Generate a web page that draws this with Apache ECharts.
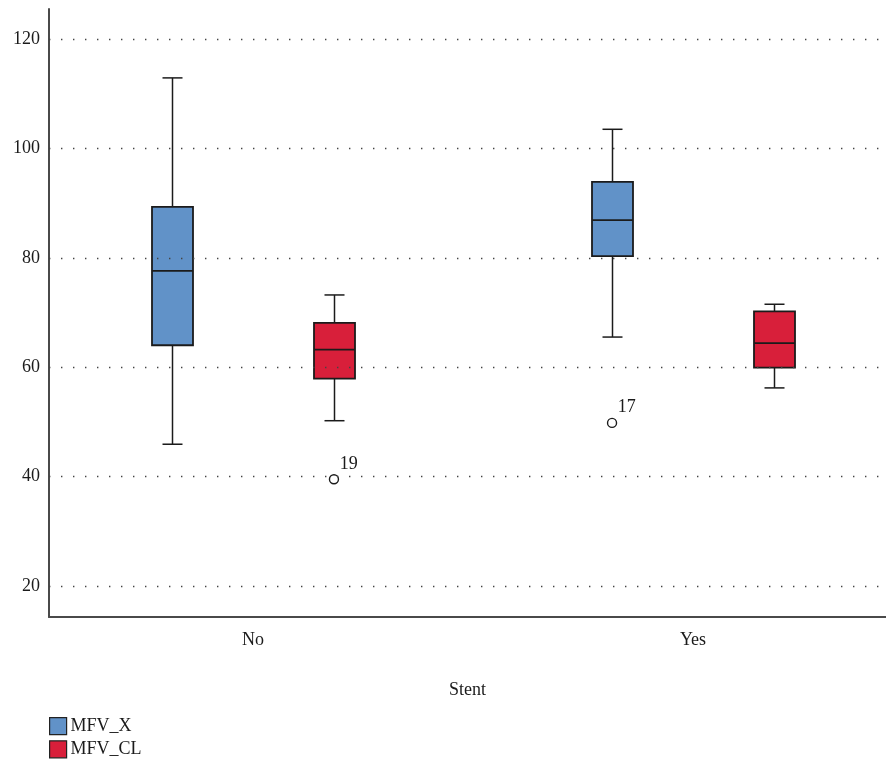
<!DOCTYPE html>
<html>
<head>
<meta charset="utf-8">
<title>MFV by Stent</title>
<script src="https://cdn.jsdelivr.net/npm/echarts@6/dist/echarts.min.js"></script>
<style>
  html, body { margin: 0; padding: 0; background: #fff; }
  #chart { width: 886px; height: 765px; }
</style>
</head>
<body>
<div id="chart"></div>
<script>
// Groups on the horizontal axis
const categories = ['No', 'Yes'];

// Five-number summaries per group: [min, Q1, median, Q3, max]
const mfvX  = [[45.9, 64.0, 77.6, 89.3, 112.9], [65.5, 80.3, 86.9, 93.9, 103.5]];
const mfvCL = [[50.2, 57.9, 63.2, 68.1, 73.2],  [56.2, 59.9, 64.4, 70.2, 71.5]];

// Outlying cases: group index, variable, value, case number
const outlierGroup = [0, 1];
const outlierVar   = ['MFV_CL', 'MFV_X'];
const outlierValue = [39.5, 49.8];
const outlierCase  = ['19', '17'];

// Value axis ticks
const yTicks = [20, 40, 60, 80, 100, 120];

const seriesNames  = ['MFV_X', 'MFV_CL'];
const seriesColors = ['#6192c8', '#d81f3a'];
const seriesShift  = { MFV_X: -0.184, MFV_CL: 0.184 };

const FONT = '"Liberation Serif", "DejaVu Serif", serif';
const INK = '#1b1b1b';

function boxRenderer(shift, color) {
  return function (params, api) {
    const c = api.value(0) + shift;
    const pMin = api.coord([c, api.value(1)]);
    const pQ1  = api.coord([c, api.value(2)]);
    const pMed = api.coord([c, api.value(3)]);
    const pQ3  = api.coord([c, api.value(4)]);
    const pMax = api.coord([c, api.value(5)]);
    const x = Math.round(pMed[0]) + 0.5;
    const half = 20.5, cap = 10;
    const line = (x1, y1, x2, y2, w) => ({
      type: 'line',
      shape: { x1, y1, x2, y2 },
      style: { stroke: INK, lineWidth: w || 1.5 }
    });
    return {
      type: 'group',
      children: [
        line(x, pQ3[1], x, pMax[1]),
        line(x, pQ1[1], x, pMin[1]),
        line(x - cap, pMax[1], x + cap, pMax[1]),
        line(x - cap, pMin[1], x + cap, pMin[1]),
        {
          type: 'rect',
          shape: { x: x - half, y: pQ3[1], width: half * 2, height: pQ1[1] - pQ3[1] },
          style: { fill: color, stroke: INK, lineWidth: 1.8 }
        },
        line(x - half, pMed[1], x + half, pMed[1], 1.8)
      ]
    };
  };
}

function boxData(stats) {
  return stats.map((s, i) => [i].concat(s));
}

const chart = echarts.init(document.getElementById('chart'), null, { renderer: 'canvas' });

const series = [
  {
    name: 'MFV_X',
    type: 'custom',
    renderItem: boxRenderer(seriesShift.MFV_X, seriesColors[0]),
    encode: { x: 0, y: [1, 2, 3, 4, 5] },
    itemStyle: { color: seriesColors[0] },
    data: boxData(mfvX),
    z: 3,
    markLine: {
      silent: true,
      symbol: 'none',
      label: { show: false },
      lineStyle: { color: '#444444', width: 1.4, type: [1.4, 10.6] },
      emphasis: { disabled: true },
      data: yTicks.map(v => ({ yAxis: v }))
    }
  },
  {
    name: 'MFV_CL',
    type: 'custom',
    renderItem: boxRenderer(seriesShift.MFV_CL, seriesColors[1]),
    encode: { x: 0, y: [1, 2, 3, 4, 5] },
    itemStyle: { color: seriesColors[1] },
    data: boxData(mfvCL),
    z: 3
  },
  {
    name: 'Outliers',
    type: 'scatter',
    symbol: 'circle',
    symbolSize: 9,
    z: 4,
    itemStyle: { color: '#ffffff', borderColor: INK, borderWidth: 1.4, opacity: 1 },
    label: {
      show: true,
      position: [11, -19],
      align: 'left',
      verticalAlign: 'top',
      fontFamily: FONT,
      fontSize: 18,
      color: INK,
      formatter: p => outlierCase[p.dataIndex]
    },
    data: outlierValue.map((v, i) => [outlierGroup[i] + seriesShift[outlierVar[i]], v])
  }
];

chart.setOption({
  animation: false,
  backgroundColor: '#ffffff',
  textStyle: { fontFamily: FONT },
  grid: { left: 49, right: 0, top: 9, bottom: 148, containLabel: false },
  legend: {
    data: seriesNames,
    orient: 'vertical',
    left: 49,
    top: 717,
    padding: 0,
    height: 60,
    itemWidth: 17,
    itemHeight: 17,
    itemGap: 5,
    icon: 'rect',
    selectedMode: false,
    itemStyle: { borderColor: '#222', borderWidth: 1.2 },
    textStyle: { fontFamily: FONT, fontSize: 18, lineHeight: 17, color: INK, padding: [0, 0, 0, -1] }
  },
  xAxis: {
    type: 'value',
    min: -0.4636,
    max: 1.4386,
    name: 'Stent',
    nameLocation: 'middle',
    nameGap: 64,
    nameTextStyle: { fontFamily: FONT, fontSize: 18, color: INK },
    axisLine: { show: true, onZero: false, lineStyle: { color: '#4a4a4a', width: 2 } },
    axisTick: { show: false },
    splitLine: { show: false },
    axisLabel: {
      customValues: [0, 1],
      margin: 14,
      fontFamily: FONT,
      fontSize: 18,
      color: INK,
      formatter: v => categories[Math.round(v)] || ''
    }
  },
  yAxis: {
    type: 'value',
    min: 14.3,
    max: 125.5,
    axisLine: { show: true, onZero: false, lineStyle: { color: '#4a4a4a', width: 2 } },
    axisTick: { show: false },
    splitLine: { show: false },
    axisLabel: {
      customValues: yTicks,
      margin: 9,
      fontFamily: FONT,
      fontSize: 18,
      color: INK
    }
  },
  series: series
});
</script>
</body>
</html>
